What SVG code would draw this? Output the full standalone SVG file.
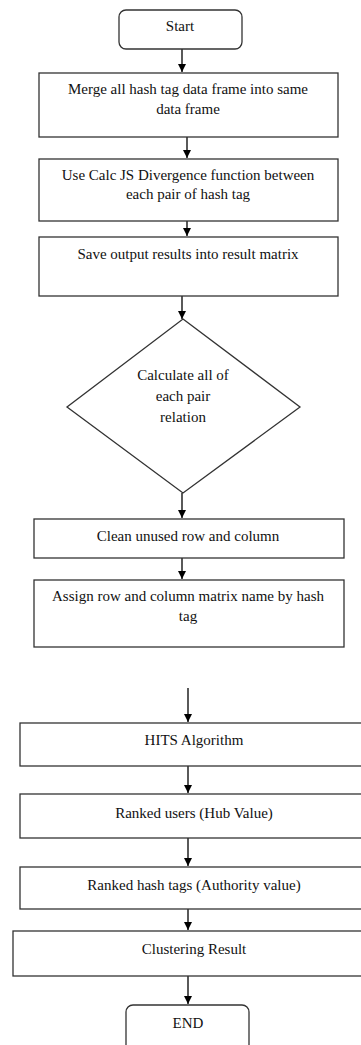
<svg xmlns="http://www.w3.org/2000/svg" width="361" height="1045" viewBox="0 0 361 1045">
<defs>
<marker id="ah" viewBox="0 0 10 10" refX="10" refY="5" markerWidth="8" markerHeight="8" markerUnits="userSpaceOnUse" orient="auto">
<path d="M0,0 L10,5 L0,10 z" fill="#000"/>
</marker>
<style>
.box{fill:#fff;stroke:#333;stroke-width:1.3}
.t{font-size:15px;fill:#111;text-anchor:middle}
.c{stroke:#000;stroke-width:1.3;fill:none;marker-end:url(#ah)}
</style>
</defs>
<rect width="361" height="1045" fill="#fff"/>
<g id="connectors">
<line class="c" x1="182" y1="49" x2="182" y2="72"/>
<line class="c" x1="187" y1="137" x2="187" y2="158"/>
<line class="c" x1="187" y1="221" x2="187" y2="236"/>
<line class="c" x1="182" y1="296" x2="182" y2="319"/>
<line class="c" x1="182" y1="493" x2="182" y2="518"/>
<line class="c" x1="182" y1="558" x2="182" y2="579"/>
<line class="c" x1="188" y1="688" x2="188" y2="722"/>
<line class="c" x1="188" y1="766" x2="188" y2="793"/>
<line class="c" x1="188" y1="838" x2="188" y2="866"/>
<line class="c" x1="188" y1="909" x2="188" y2="930"/>
<line class="c" x1="188" y1="976" x2="188" y2="1004"/>
</g>
<g font-family="Liberation Serif, Times New Roman, serif">
<g id="start"><rect class="box" x="119" y="10" width="123" height="39" rx="7"/><text class="t" x="180" y="31">Start</text></g>
<g id="merge"><rect class="box" x="39" y="73" width="299" height="64"/><text class="t" x="188" y="94">Merge all hash tag data frame into same</text><text class="t" x="188" y="114">data frame</text></g>
<g id="calcjs"><rect class="box" x="39" y="159" width="299" height="62"/><text class="t" x="188" y="180">Use Calc JS Divergence function between</text><text class="t" x="188" y="199">each pair of hash tag</text></g>
<g id="save"><rect class="box" x="39" y="237" width="299" height="59"/><text class="t" x="188" y="259">Save output results into result matrix</text></g>
<g id="calcall"><polygon class="box" points="183,319 300,407 183,493 67,407"/><text class="t" x="183" y="380">Calculate all of</text><text class="t" x="183" y="401">each pair</text><text class="t" x="183" y="422">relation</text></g>
<g id="clean"><rect class="box" x="34" y="519" width="310" height="39"/><text class="t" x="188" y="541">Clean unused row and column</text></g>
<g id="assign"><rect class="box" x="34" y="580" width="310" height="67"/><text class="t" x="188" y="601">Assign row and column matrix name by hash</text><text class="t" x="188" y="621">tag</text></g>
<g id="hits"><rect class="box" x="20" y="723" width="350" height="43"/><text class="t" x="194" y="745">HITS Algorithm</text></g>
<g id="hub"><rect class="box" x="20" y="794" width="350" height="44"/><text class="t" x="194" y="818">Ranked users (Hub Value)</text></g>
<g id="authority"><rect class="box" x="20" y="867" width="350" height="42"/><text class="t" x="194" y="890">Ranked hash tags (Authority value)</text></g>
<g id="cluster"><rect class="box" x="13" y="931" width="357" height="45"/><text class="t" x="194" y="954">Clustering Result</text></g>
<g id="end"><rect class="box" x="126" y="1005" width="123" height="50" rx="7"/><text class="t" x="188" y="1028">END</text></g>
</g>
</svg>
